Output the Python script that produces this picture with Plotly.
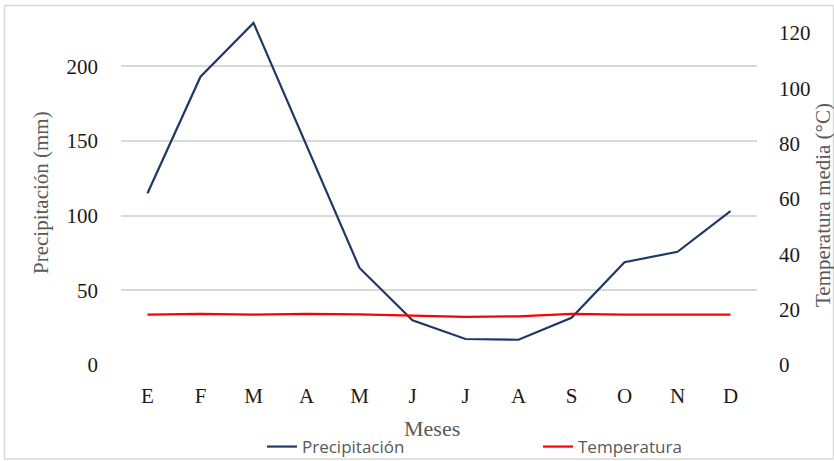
import plotly.graph_objects as go

# Monthly climate data
meses = ["E", "F", "M", "A", "M", "J", "J", "A", "S", "O", "N", "D"]
precipitacion = [115, 193, 229, 147, 65, 30, 17.4, 16.9, 31.6, 68.8, 75.8, 103]
temperatura = [18.2, 18.5, 18.2, 18.5, 18.3, 17.8, 17.4, 17.6, 18.5, 18.2, 18.2, 18.2]
ticks_precip = [0, 50, 100, 150, 200]
ticks_temp = [0, 20, 40, 60, 80, 100, 120]

W, H = 834, 461
L, R, T, B = 121, 77, 18, 96
PW, PH = W - L - R, H - T - B

x_idx = list(range(len(meses)))

serif = "Liberation Serif"
grey = "#595959"


def px_x(p):
    return (p - L) / PW


def px_y(p):
    return (H - B - p) / PH


fig = go.Figure()
fig.add_trace(go.Scatter(
    x=x_idx, y=precipitacion, name="Precipitación", mode="lines",
    line=dict(color="#1f3864", width=2.2), yaxis="y", legend="legend",
))
fig.add_trace(go.Scatter(
    x=x_idx, y=temperatura, name="Temperatura", mode="lines",
    line=dict(color="#ff0000", width=2.2), yaxis="y2", legend="legend2",
))

legend_font = dict(family="Open Sans", size=17, color=grey)

fig.update_layout(
    width=W, height=H,
    margin=dict(l=L, r=R, t=T, b=B, autoexpand=False),
    paper_bgcolor="white", plot_bgcolor="white",
    showlegend=True,
    legend=dict(
        orientation="h", x=px_x(262), y=px_y(447), xanchor="left", yanchor="middle",
        font=legend_font, bgcolor="rgba(0,0,0,0)",
    ),
    legend2=dict(
        orientation="h", x=px_x(538), y=px_y(447), xanchor="left", yanchor="middle",
        font=legend_font, bgcolor="rgba(0,0,0,0)",
    ),
    xaxis=dict(
        range=[-0.5, len(meses) - 0.5],
        tickmode="array", tickvals=x_idx, ticktext=meses,
        showgrid=False, zeroline=False, showline=False,
        ticks="", ticklabelstandoff=16,
        tickfont=dict(family=serif, size=21, color="#1a1a1a"),
        fixedrange=True,
    ),
    yaxis=dict(
        range=[0, 232.3], tickmode="array", tickvals=ticks_precip,
        showgrid=True, gridcolor="#d9d9d9", gridwidth=1.5,
        zeroline=False, showline=False, ticks="", ticklabelstandoff=22,
        tickfont=dict(family=serif, size=21, color="#1a1a1a"),
    ),
    yaxis2=dict(
        range=[0, 125.4], tickmode="array", tickvals=ticks_temp,
        overlaying="y", side="right", showgrid=False,
        zeroline=False, showline=False, ticks="", ticklabelstandoff=21,
        tickfont=dict(family=serif, size=21, color="#1a1a1a"),
    ),
    annotations=[
        dict(text="Precipitación (mm)", textangle=-90, xref="paper", yref="paper",
             x=px_x(41), y=px_y(193), xanchor="center", yanchor="middle",
             showarrow=False, font=dict(family=serif, size=21, color=grey)),
        dict(text="Temperatura media (°C)", textangle=-90, xref="paper", yref="paper",
             x=px_x(823), y=px_y(205), xanchor="center", yanchor="middle",
             showarrow=False, font=dict(family=serif, size=21, color=grey)),
        dict(text="Meses", xref="paper", yref="paper",
             x=px_x(432), y=px_y(429), xanchor="center", yanchor="middle",
             showarrow=False, font=dict(family=serif, size=22, color=grey)),
    ],
    shapes=[
        dict(type="rect", xref="paper", yref="paper",
             x0=px_x(4.5), x1=px_x(833.5), y0=px_y(459), y1=px_y(5.5),
             line=dict(color="#d9d9d9", width=1.5), fillcolor="rgba(0,0,0,0)",
             layer="below"),
    ],
)

fig.write_html("out.html")
